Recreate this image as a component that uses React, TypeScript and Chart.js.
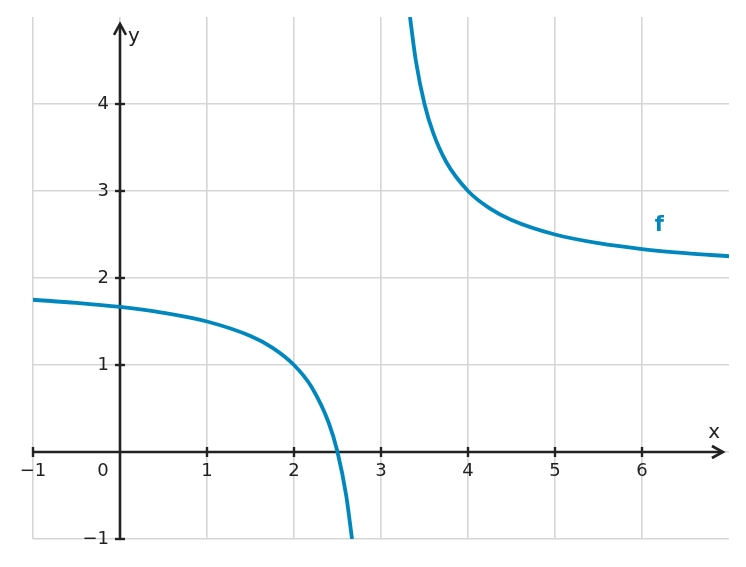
import React, { useRef, useEffect } from 'react';
import { Chart, registerables, Plugin } from 'chart.js';

Chart.register(...registerables);

// Points, left branch (x < 3)
const leftX = [-1, -0.5, 0, 0.5, 1, 1.5, 1.75, 2, 2.2, 2.4, 2.5, 2.6, 2.667];
const leftY = [1.75, 1.714, 1.667, 1.6, 1.5, 1.333, 1.2, 1, 0.75, 0.333, 0, -0.5, -1];

// right branch (x > 3)
const rightX = [3.333, 3.4, 3.5, 3.6, 3.75, 4, 4.25, 4.5, 5, 5.5, 6, 6.5, 7];
const rightY = [5, 4.5, 4, 3.667, 3.333, 3, 2.8, 2.667, 2.5, 2.4, 2.333, 2.286, 2.25];

const xTicks = [-1, 1, 2, 3, 4, 5, 6];
const yTicks = [-1, 1, 2, 3, 4];

const CURVE = '#0087bd';
const INK = '#222222';
const FONT = '"DejaVu Sans", sans-serif';

const toPoints = (xs: number[], ys: number[]) => xs.map((x, i) => ({ x, y: ys[i] }));

const axesPlugin: Plugin = {
  id: 'mathAxes',
  beforeDatasetsDraw(chart) {
    const { ctx, scales } = chart;
    const xs = scales.x;
    const ys = scales.y;
    const px = (v: number) => xs.getPixelForValue(v);
    const py = (v: number) => ys.getPixelForValue(v);
    const x0 = px(0);
    const y0 = py(0);

    ctx.save();
    ctx.strokeStyle = INK;
    ctx.lineWidth = 2.6;
    ctx.lineCap = 'butt';

    // x axis
    const xTip = px(6.93);
    ctx.beginPath();
    ctx.moveTo(px(-1), y0);
    ctx.lineTo(xTip, y0);
    ctx.stroke();
    // y axis
    const yTip = py(4.92);
    ctx.beginPath();
    ctx.moveTo(x0, py(-1));
    ctx.lineTo(x0, yTip);
    ctx.stroke();

    // arrow heads
    ctx.lineJoin = 'miter';
    ctx.beginPath();
    ctx.moveTo(xTip - 11, y0 - 6);
    ctx.lineTo(xTip, y0);
    ctx.lineTo(xTip - 11, y0 + 6);
    ctx.stroke();
    ctx.beginPath();
    ctx.moveTo(x0 - 6, yTip + 11);
    ctx.lineTo(x0, yTip);
    ctx.lineTo(x0 + 6, yTip + 11);
    ctx.stroke();

    // tick marks
    ctx.lineWidth = 2.4;
    [-1, 1, 2, 3, 4, 5, 6].forEach((v) => {
      ctx.beginPath();
      ctx.moveTo(px(v), y0 - 5);
      ctx.lineTo(px(v), y0 + 5);
      ctx.stroke();
    });
    [-1, 1, 2, 3, 4].forEach((v) => {
      ctx.beginPath();
      ctx.moveTo(x0 - 5, py(v));
      ctx.lineTo(x0 + 5, py(v));
      ctx.stroke();
    });
    ctx.restore();
  },
  afterDraw(chart) {
    const { ctx, scales } = chart;
    const px = (v: number) => scales.x.getPixelForValue(v);
    const py = (v: number) => scales.y.getPixelForValue(v);
    const x0 = px(0);
    const y0 = py(0);

    ctx.save();
    ctx.fillStyle = INK;
    ctx.font = `18px ${FONT}`;
    ctx.textBaseline = 'middle';

    ctx.textAlign = 'center';
    xTicks.forEach((v) => {
      ctx.fillText(v < 0 ? '\u2212' + Math.abs(v) : String(v), px(v), y0 + 19);
    });
    ctx.fillText('0', x0 - 17, y0 + 19);

    ctx.textAlign = 'right';
    yTicks.forEach((v) => {
      ctx.fillText(v < 0 ? '\u2212' + Math.abs(v) : String(v), x0 - 11, py(v));
    });

    // axis names
    ctx.font = `20px ${FONT}`;
    ctx.textAlign = 'center';
    ctx.fillText('x', px(6.83), y0 - 19);
    ctx.fillText('y', x0 + 14, py(4.77));

    // function name
    ctx.fillStyle = CURVE;
    ctx.font = `bold 21px ${FONT}`;
    ctx.fillText('f', px(6.2), py(2.6));
    ctx.restore();
  },
};

const App: React.FC = () => {
  const canvasRef = useRef<HTMLCanvasElement>(null);
  const chartRef = useRef<Chart | null>(null);

  useEffect(() => {
    document.body.style.margin = '0';
    if (!canvasRef.current) return;
    if (chartRef.current) chartRef.current.destroy();

    const gridColor = (v: number, edge: number) => (v === edge ? 'rgba(0,0,0,0)' : '#d6d6d6');

    chartRef.current = new Chart(canvasRef.current, {
      type: 'scatter',
      data: {
        datasets: [
          {
            data: toPoints(leftX, leftY),
            showLine: true,
            borderColor: CURVE,
            borderWidth: 3.8,
            pointRadius: 0,
            cubicInterpolationMode: 'monotone',
          },
          {
            data: toPoints(rightX, rightY),
            showLine: true,
            borderColor: CURVE,
            borderWidth: 3.8,
            pointRadius: 0,
            cubicInterpolationMode: 'monotone',
          },
        ],
      },
      options: {
        animation: false,
        responsive: true,
        maintainAspectRatio: false,
        layout: { padding: { left: 33, right: 17, top: 17, bottom: 28 } },
        plugins: {
          legend: { display: false },
          tooltip: { enabled: false },
        },
        scales: {
          x: {
            type: 'linear',
            min: -1,
            max: 7,
            ticks: { stepSize: 1, display: false },
            border: { display: false },
            grid: {
              drawTicks: false,
              lineWidth: 1.6,
              color: (c) => gridColor(c.tick?.value, 7),
            },
          },
          y: {
            type: 'linear',
            min: -1,
            max: 5,
            ticks: { stepSize: 1, display: false },
            border: { display: false },
            grid: {
              drawTicks: false,
              lineWidth: 1.6,
              color: (c) => gridColor(c.tick?.value, 5),
            },
          },
        },
      },
      plugins: [axesPlugin],
    });

    return () => {
      if (chartRef.current) {
        chartRef.current.destroy();
        chartRef.current = null;
      }
    };
  }, []);

  return (
    <div style={{ width: '746px', height: '567px', position: 'relative', background: '#fff' }}>
      <canvas ref={canvasRef} />
    </div>
  );
};

export default App;
